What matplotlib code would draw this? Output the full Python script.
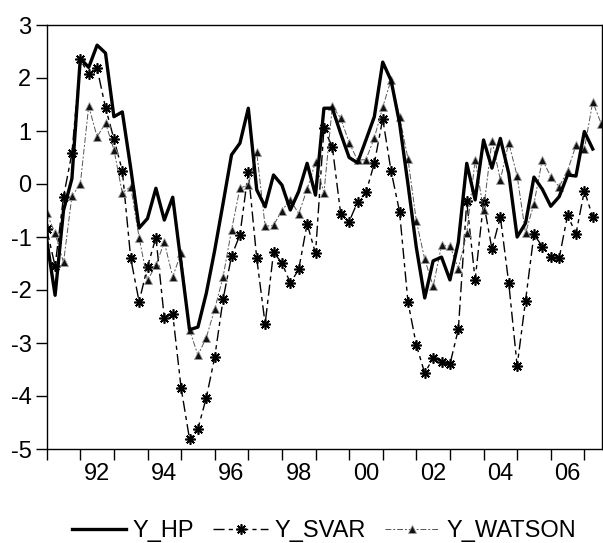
import numpy as np
import matplotlib.pyplot as plt

plt.rcParams['font.family'] = ['Liberation Sans', 'DejaVu Sans']
plt.rcParams['axes.unicode_minus'] = False

# quarterly observations, 1991Q1 .. 2007Q3
quarters = ['%dQ%d' % (1991 + k // 4, k % 4 + 1) for k in range(67)]

y_hp = [-1.05, -2.1, -0.5, 0.1, 2.37, 2.2, 2.62, 2.47, 1.27, 1.36,
        0.3, -0.83, -0.65, -0.08, -0.68, -0.25, -1.5, -2.75, -2.7, -2.06,
        -1.25, -0.36, 0.55, 0.77, 1.43, -0.11, -0.43, 0.17, -0.02, -0.49,
        -0.14, 0.39, -0.21, 1.43, 1.43, 0.95, 0.5, 0.4, 0.83, 1.27,
        2.3, 1.95, 1.15, 0.0, -1.2, -2.15, -1.45, -1.38, -1.81, -1.1,
        0.39, -0.3, 0.83, 0.3, 0.86, 0.2, -1.0, -0.74, 0.13, -0.1,
        -0.42, -0.24, 0.17, 0.15, 0.99, 0.66, np.nan]

y_svar = [-0.85, -1.55, -0.24, 0.58, 2.35, 2.07, 2.18, 1.44, 0.85, 0.25,
          -1.4, -2.22, -1.56, -1.01, -2.53, -2.45, -3.85, -4.81, -4.62, -4.03,
          -3.27, -2.17, -1.36, -0.96, 0.23, -1.4, -2.64, -1.29, -1.49, -1.87,
          -1.61, -0.75, -1.31, 1.05, 0.7, -0.57, -0.71, -0.34, -0.16, 0.39,
          1.23, 0.24, -0.52, -2.22, -3.04, -3.57, -3.28, -3.35, -3.4, -2.74,
          -0.33, -1.81, -0.34, -1.23, -0.62, -1.87, -3.43, -2.2, -0.95, -1.18,
          -1.38, -1.4, -0.59, -0.94, -0.13, -0.62, np.nan]

y_watson = [-0.55, -0.93, -1.48, -0.23, 0.0, 1.47, 0.89, 1.15, 0.65, -0.17,
            -0.05, -1.01, -1.82, -1.53, -1.1, -1.75, -1.3, -2.75, -3.23, -2.9,
            -2.36, -1.75, -0.87, -0.08, -0.02, 0.6, -0.8, -0.78, -0.5, -0.3,
            -0.56, -0.1, 0.41, -0.17, 1.47, 1.24, 0.78, 0.45, 0.46, 0.87,
            1.45, 1.97, 1.27, 0.48, -0.7, -1.42, -1.93, -1.16, -1.17, -1.6,
            -0.93, 0.46, -0.49, 0.82, 0.08, 0.78, 0.15, -0.93, -0.37, 0.46,
            0.14, -0.05, 0.25, 0.73, 0.66, 1.55, 1.14]

years = list(range(1991, 2008))
year_labels = ['92', '94', '96', '98', '00', '02', '04', '06']


def to_time(q):
    y, n = q.split('Q')
    return int(y) + (int(n) - 1) / 4.0


t = np.array([to_time(q) for q in quarters])
label_pos = [(1900 if s[0] == '9' else 2000) + int(s) + 0.5 for s in year_labels]

fig = plt.figure(figsize=(6.03, 5.43), dpi=100)
ax = fig.add_axes([46.7 / 603, 1 - 449 / 543, (602 - 46.7) / 603, (449 - 25) / 543])

ax.plot(t, y_hp, color='black', lw=2.4, label='Y_HP', zorder=3)
ax.plot(t, y_svar, color='black', lw=1.0, dashes=(8, 3, 3, 3),
        marker=(8, 2, 0), ms=7.5, mew=1.2, label='Y_SVAR', zorder=2)
ax.plot(t, y_watson, color='#555555', lw=0.7, dashes=(6, 2, 2, 2),
        marker='^', ms=5.5, mfc='#111111', mec='#999999', mew=0.6,
        label='Y_WATSON', zorder=2)

ax.set_xlim(t[0], t[0] + 66.1 / 4)
ax.set_ylim(-5, 3)

ax.set_xticks(years)
ax.set_xticklabels([])
ax.set_xticks(label_pos, minor=True)
ax.set_xticklabels(year_labels, minor=True)
ax.tick_params(axis='x', which='major', direction='out', length=8, width=1)
ax.tick_params(axis='x', which='minor', length=0, pad=10, labelsize=17)
ax.set_yticks(range(-5, 4))
ax.tick_params(axis='y', direction='out', length=8, width=1, pad=3, labelsize=17)

for s in ax.spines.values():
    s.set_linewidth(1.0)

fig.legend(loc='center', bbox_to_anchor=(0.537, 1 - 531 / 543), ncol=3,
           frameon=False, fontsize=17, handlelength=2.3, handletextpad=0.3,
           columnspacing=0.8)

fig.savefig('out.png', dpi=100)
